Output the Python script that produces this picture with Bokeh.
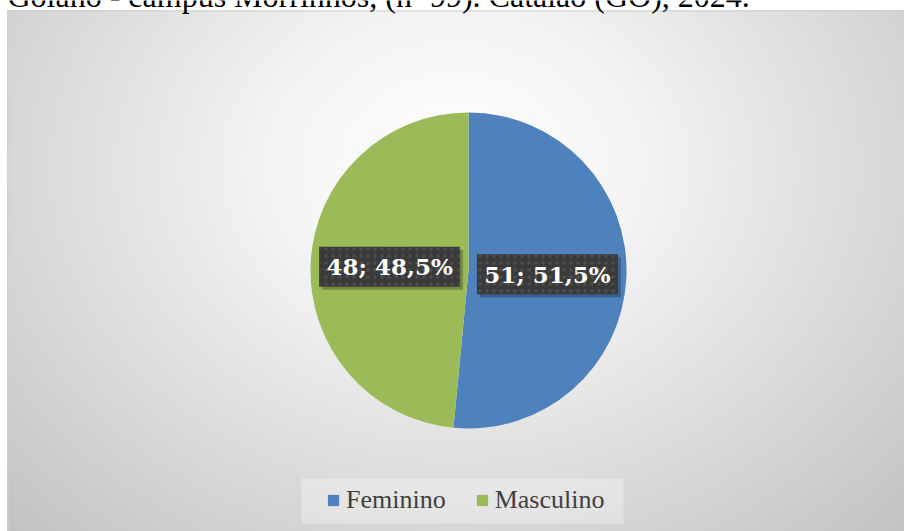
import math
from bokeh.plotting import figure
from bokeh.models import Range1d, Legend, LegendItem, ColumnDataSource
from bokeh.core.properties import value
from bokeh.embed import file_html
from bokeh.resources import INLINE

# ---- data ----
categories = ["Feminino", "Masculino"]
counts = [51, 48]
colors = ["#4F81BD", "#9BBB59"]
title_text = "Goiano - campus Morrinhos, (n=99). Catalão (GO), 2024."

# ---- layout (pixels) ----
W, H = 904, 531
CX, CY, R = 468, 261, 158

total = sum(counts)
starts, ends, lx, ly, labels = [], [], [], [], []
cum = 0
for c in counts:
    a0 = math.pi / 2 - 2 * math.pi * cum / total
    cum += c
    a1 = math.pi / 2 - 2 * math.pi * cum / total
    starts.append(a0)
    ends.append(a1)
    mid = (a0 + a1) / 2
    lx.append(CX + R / 2 * math.cos(mid))
    ly.append(CY + R / 2 * math.sin(mid))
    pct = f"{100 * c / total:.1f}".replace(".", ",")
    labels.append(f"{c}; {pct}%")

src = ColumnDataSource(dict(cat=categories, count=counts, color=colors,
                            start=starts, end=ends, lx=lx, ly=ly, label=labels,
                            sx=[x + 3 for x in lx], sy=[y - 3 for y in ly]))

p = figure(width=W, height=H, x_range=Range1d(0, W), y_range=Range1d(0, H),
           output_backend="svg", toolbar_location=None, min_border=0)
p.axis.visible = False
p.grid.visible = False
p.outline_line_color = None
p.background_fill_alpha = 0
p.border_fill_alpha = 0
p.styles = {
    "position": "fixed", "top": "0px", "left": "0px",
    "background-color": "#ffffff",
    "background-image": "radial-gradient(ellipse farthest-corner at 50% 30%, #ffffff 0%, #f3f3f3 30%, #c2c2c2 100%)",
    "background-position": "7px 10px",
    "background-size": "897px 521px",
    "background-repeat": "no-repeat",
}

# chart frame border
p.quad(left=7.5, right=W + 5, bottom=-5, top=H - 10.5, fill_alpha=0,
       line_color="#d0d0d0", line_width=1)

# title (cut at top as in reference)
p.text(x=[7], y=[H + 5], text=[title_text], text_font=value("Liberation Serif"),
       text_font_size="32px", text_color="#000000", text_baseline="alphabetic",
       text_align="left")

# pie
wr = p.wedge(x=CX, y=CY, radius=R, start_angle="start", end_angle="end",
             direction="clock", fill_color="color", line_color=None, source=src)

# data labels with shadow and dotted dark box
p.rect(x="sx", y="sy", width=141, height=40, width_units="screen", height_units="screen",
       fill_color="#000000", fill_alpha=0.25, line_color=None, source=src)
p.rect(x="lx", y="ly", width=141, height=40, width_units="screen", height_units="screen",
       fill_color="#3a3a3a", line_color=None, hatch_pattern="dot", hatch_color="#4d4d4d",
       hatch_scale=7, hatch_weight=1, source=src)
p.text(x="lx", y="ly", text="label", text_font=value("DejaVu Serif"), text_font_style="bold",
       text_font_size="23px", text_color="#ffffff", text_align="center",
       text_baseline="middle", source=src)

# legend box
p.quad(left=301, right=623, bottom=8, top=53, fill_color="#ffffff", fill_alpha=0.3,
       line_color=None)

items = [LegendItem(label=categories[i], renderers=[wr], index=i) for i in range(len(categories))]
legend = Legend(items=items, orientation="horizontal", location=(326, 16),
                padding=5, margin=0, spacing=29, label_standoff=6,
                glyph_width=14, glyph_height=14,
                label_text_font="Liberation Serif", label_text_font_size="26px",
                label_text_color="#404040", background_fill_alpha=0,
                border_line_color=None)
p.add_layout(legend, "center")

open("out.html", "w").write(file_html(p, INLINE))
